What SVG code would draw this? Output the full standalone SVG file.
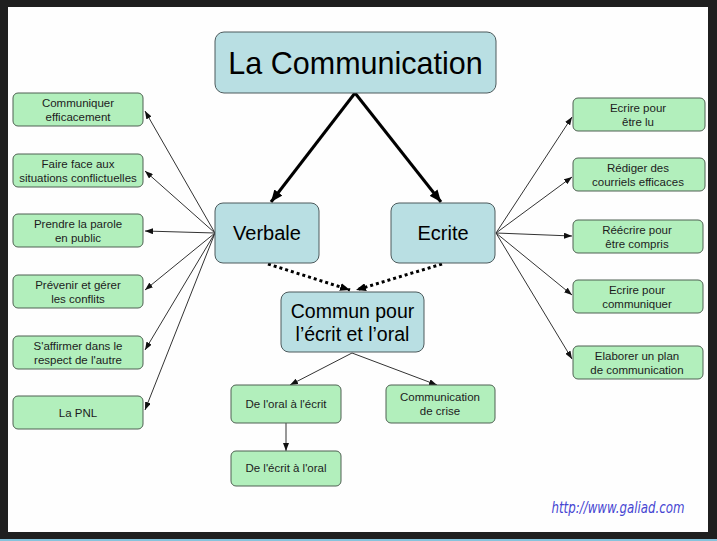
<svg xmlns="http://www.w3.org/2000/svg" width="717" height="541" viewBox="0 0 717 541">
<style>
.main{fill:#b9dfe3;stroke:#4d5a5c;stroke-width:1}
.leaf{fill:#b2efbc;stroke:#4f6152;stroke-width:1}
text{font-family:"Liberation Sans",Arial,sans-serif;text-anchor:middle;fill:#1c1c1c}
.s{font-size:11.5px}
.thin{stroke:#333;stroke-width:1;fill:none;marker-end:url(#ah)}
.thick{stroke:#000;stroke-width:3;fill:none;marker-end:url(#ahb)}
.dot{stroke:#000;stroke-width:3;fill:none;stroke-dasharray:3 3;marker-end:url(#ahd)}
</style>
<defs>
<marker id="ah" markerUnits="userSpaceOnUse" markerWidth="8" markerHeight="6" refX="8" refY="3" orient="auto"><path d="M0,0 L8,3 L0,6 z" fill="#111"/></marker>
<marker id="ahb" markerUnits="userSpaceOnUse" markerWidth="12" markerHeight="10" refX="12" refY="5" orient="auto"><path d="M0,0 L12,5 L0,10 z" fill="#000"/></marker>
<marker id="ahd" markerUnits="userSpaceOnUse" markerWidth="10" markerHeight="8" refX="10" refY="4" orient="auto"><path d="M0,0 L10,4 L0,8 z" fill="#000"/></marker>
</defs>
<rect x="0" y="0" width="717" height="541" fill="#1f1f1f"/>
<rect x="8" y="7" width="700" height="525" fill="#fefefe"/>
<rect x="0" y="539" width="717" height="2" fill="#86c3dc"/>

<g id="connectors">
<line class="thick" x1="355" y1="93" x2="271" y2="202"/>
<line class="thick" x1="355" y1="93" x2="441" y2="202"/>
<line class="dot" x1="268" y1="264" x2="350" y2="290"/>
<line class="dot" x1="442" y1="264" x2="356" y2="290"/>
<line class="thin" x1="215" y1="233" x2="145" y2="111"/>
<line class="thin" x1="215" y1="233" x2="145" y2="171"/>
<line class="thin" x1="215" y1="233" x2="145" y2="231"/>
<line class="thin" x1="215" y1="233" x2="145" y2="290"/>
<line class="thin" x1="215" y1="233" x2="145" y2="350"/>
<line class="thin" x1="215" y1="233" x2="145" y2="410"/>
<line class="thin" x1="496" y1="233" x2="572" y2="117"/>
<line class="thin" x1="496" y1="233" x2="572" y2="177"/>
<line class="thin" x1="496" y1="233" x2="572" y2="236"/>
<line class="thin" x1="496" y1="233" x2="572" y2="295"/>
<line class="thin" x1="496" y1="233" x2="572" y2="359"/>
<line class="thin" x1="352" y1="353" x2="290" y2="385"/>
<line class="thin" x1="352" y1="353" x2="437" y2="385"/>
<line class="thin" x1="286" y1="423" x2="286" y2="451"/>
</g>

<g id="la-communication"><rect class="main" x="215" y="32" width="281" height="61" rx="9"/><text x="355.5" y="74" style="font-size:30.5px;fill:#000">La Communication</text></g>
<g id="verbale"><rect class="main" x="215" y="203" width="104" height="60" rx="8"/><text x="267" y="240" style="font-size:20px;fill:#000">Verbale</text></g>
<g id="ecrite"><rect class="main" x="391" y="203" width="104" height="60" rx="8"/><text x="443" y="240" style="font-size:20px;fill:#000">Ecrite</text></g>
<g id="commun"><rect class="main" x="281" y="292" width="143" height="60" rx="8"/><text x="352.5" y="318" style="font-size:19.5px;fill:#000">Commun pour</text><text x="352.5" y="341" style="font-size:19.5px;fill:#000">l’écrit et l’oral</text></g>

<g id="l1"><rect class="leaf" x="13" y="93" width="130" height="33" rx="5"/><text class="s" x="78" y="107">Communiquer</text><text class="s" x="78" y="121">efficacement</text></g>
<g id="l2"><rect class="leaf" x="13" y="154" width="130" height="33" rx="5"/><text class="s" x="78" y="168">Faire face aux</text><text class="s" x="78" y="182">situations conflictuelles</text></g>
<g id="l3"><rect class="leaf" x="13" y="214" width="130" height="33" rx="5"/><text class="s" x="78" y="228">Prendre la parole</text><text class="s" x="78" y="242">en public</text></g>
<g id="l4"><rect class="leaf" x="13" y="275" width="130" height="33" rx="5"/><text class="s" x="78" y="289">Prévenir et gérer</text><text class="s" x="78" y="303">les conflits</text></g>
<g id="l5"><rect class="leaf" x="13" y="336" width="130" height="33" rx="5"/><text class="s" x="78" y="350">S'affirmer dans le</text><text class="s" x="78" y="364">respect de l'autre</text></g>
<g id="l6"><rect class="leaf" x="13" y="396" width="130" height="33" rx="5"/><text class="s" x="78" y="417">La PNL</text></g>

<g id="r1"><rect class="leaf" x="573" y="98" width="132" height="33" rx="5"/><text class="s" x="638" y="112">Ecrire pour</text><text class="s" x="638" y="126">être lu</text></g>
<g id="r2"><rect class="leaf" x="573" y="158" width="132" height="33" rx="5"/><text class="s" x="638" y="172">Rédiger des</text><text class="s" x="638" y="186">courriels efficaces</text></g>
<g id="r3"><rect class="leaf" x="573" y="220" width="130" height="33" rx="5"/><text class="s" x="637" y="234">Réécrire pour</text><text class="s" x="637" y="248">être compris</text></g>
<g id="r4"><rect class="leaf" x="573" y="280" width="130" height="33" rx="5"/><text class="s" x="637" y="294">Ecrire pour</text><text class="s" x="637" y="308">communiquer</text></g>
<g id="r5"><rect class="leaf" x="573" y="346" width="130" height="33" rx="5"/><text class="s" x="637" y="360">Elaborer un plan</text><text class="s" x="637" y="374">de communication</text></g>

<g id="oral-ecrit"><rect class="leaf" x="231" y="385" width="110" height="38" rx="5"/><text class="s" x="286" y="408">De l'oral à l'écrit</text></g>
<g id="crise"><rect class="leaf" x="386" y="385" width="109" height="38" rx="5"/><text class="s" x="440" y="401">Communication</text><text class="s" x="440" y="415">de crise</text></g>
<g id="ecrit-oral"><rect class="leaf" x="231" y="451" width="110" height="35" rx="5"/><text class="s" x="286" y="472">De l'écrit à l'oral</text></g>

<text x="618" y="513" textLength="133" lengthAdjust="spacingAndGlyphs" style="font-family:'DejaVu Sans Condensed','Liberation Sans',sans-serif;font-style:italic;font-size:15px;fill:#4646d2">http://www.galiad.com</text>
</svg>
